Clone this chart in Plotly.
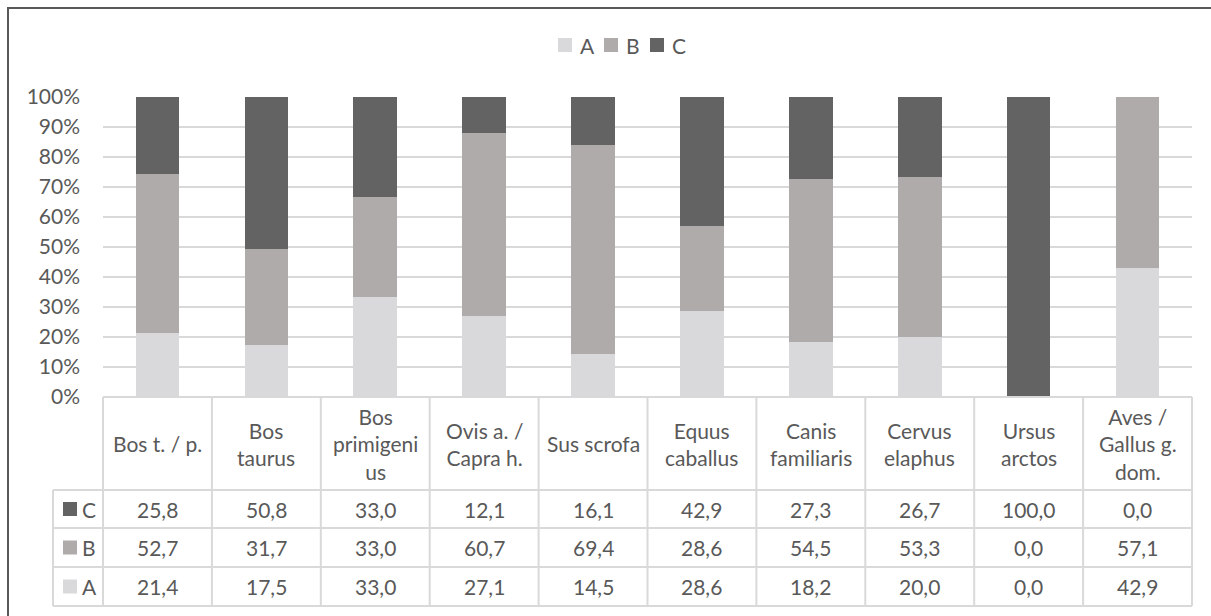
import plotly.graph_objects as go

# Species groups and shares (%) per class
categories = ["Bos t. / p.", "Bos taurus", "Bos primigenius", "Ovis a. / Capra h.", "Sus scrofa",
              "Equus caballus", "Canis familiaris", "Cervus elaphus", "Ursus arctos", "Aves / Gallus g. dom."]
header_labels = ["Bos t. / p.", "Bos<br>taurus", "Bos<br>primigeni<br>us", "Ovis a. /<br>Capra h.", "Sus scrofa",
                 "Equus<br>caballus", "Canis<br>familiaris", "Cervus<br>elaphus", "Ursus<br>arctos", "Aves /<br>Gallus g.<br>dom."]
values_a = [21.4, 17.5, 33.0, 27.1, 14.5, 28.6, 18.2, 20.0, 0.0, 42.9]
values_b = [52.7, 31.7, 33.0, 60.7, 69.4, 28.6, 54.5, 53.3, 0.0, 57.1]
values_c = [25.8, 50.8, 33.0, 12.1, 16.1, 42.9, 27.3, 26.7, 100.0, 0.0]
series_names = ["A", "B", "C"]
y_ticks = [0, 10, 20, 30, 40, 50, 60, 70, 80, 90, 100]

colors = {"A": "#d9d9db", "B": "#afabab", "C": "#636363"}
text_color = "#595959"
grid_color = "#d9d9d9"
FONT = "Lato"
FS = 21

W, H = 1211, 616
L, R, T, B = 103, 19, 97, 219
PW, PH = W - L - R, H - T - B


def px(x):
    return (x - L) / PW


def py(y):
    return (H - B - y) / PH


fig = go.Figure()
series = {"A": values_a, "B": values_b, "C": values_c}
for name in series_names:
    fig.add_trace(go.Bar(
        x=list(range(len(categories))), y=series[name], name=name,
        marker=dict(color=colors[name], line=dict(width=0)),
        showlegend=False,
    ))

shapes = []
annotations = []

# outer chart frame
shapes.append(dict(type="rect", xref="paper", yref="paper",
                   x0=px(8), x1=px(1300), y0=py(8), y1=py(700),
                   line=dict(color="#595959", width=2), fillcolor="rgba(0,0,0,0)", layer="below"))

# legend at the top
legend_x = [558, 604, 650]
for name, lx in zip(series_names, legend_x):
    shapes.append(dict(type="rect", xref="paper", yref="paper",
                       x0=px(lx), x1=px(lx + 14), y0=py(38), y1=py(52),
                       line=dict(width=0), fillcolor=colors[name]))
    annotations.append(dict(xref="paper", yref="paper", x=px(lx + 20), y=py(45),
                            text=name, showarrow=False, xanchor="left", yanchor="middle",
                            font=dict(family=FONT, size=FS, color=text_color)))

# data table below the plot
col_w = PW / len(categories)
x_left_key = 53
row_edges = [397, 490, 528, 567, 606]
line_style = dict(color=grid_color, width=2)
# horizontal lines
shapes.append(dict(type="line", xref="paper", yref="paper", x0=px(L), x1=px(L + PW),
                   y0=py(row_edges[0]), y1=py(row_edges[0]), line=line_style))
for ry in row_edges[1:]:
    shapes.append(dict(type="line", xref="paper", yref="paper", x0=px(x_left_key), x1=px(L + PW),
                       y0=py(ry), y1=py(ry), line=line_style))
# vertical lines
for i in range(len(categories) + 1):
    xv = L + i * col_w
    shapes.append(dict(type="line", xref="paper", yref="paper", x0=px(xv), x1=px(xv),
                       y0=py(row_edges[0]), y1=py(row_edges[-1]), line=line_style))
shapes.append(dict(type="line", xref="paper", yref="paper", x0=px(x_left_key), x1=px(x_left_key),
                   y0=py(row_edges[1]), y1=py(row_edges[-1]), line=line_style))

# header labels
for i, lab in enumerate(header_labels):
    annotations.append(dict(xref="paper", yref="paper", x=px(L + (i + 0.5) * col_w),
                            y=py((row_edges[0] + row_edges[1]) / 2), text=lab, showarrow=False,
                            xanchor="center", yanchor="middle", align="center",
                            font=dict(family=FONT, size=FS, color=text_color)))

# value rows (C, B, A top to bottom)
row_order = ["C", "B", "A"]
for r, name in enumerate(row_order):
    yc = (row_edges[r + 1] + row_edges[r + 2]) / 2
    shapes.append(dict(type="rect", xref="paper", yref="paper",
                       x0=px(63), x1=px(77), y0=py(yc - 7), y1=py(yc + 7),
                       line=dict(width=0), fillcolor=colors[name]))
    annotations.append(dict(xref="paper", yref="paper", x=px(80), y=py(yc), text=name,
                            showarrow=False, xanchor="left", yanchor="middle",
                            font=dict(family=FONT, size=FS, color=text_color)))
    for i, v in enumerate(series[name]):
        annotations.append(dict(xref="paper", yref="paper", x=px(L + (i + 0.5) * col_w), y=py(yc),
                                text=f"{v:.1f}".replace(".", ","), showarrow=False,
                                xanchor="center", yanchor="middle",
                                font=dict(family=FONT, size=FS, color=text_color)))

fig.update_layout(
    width=W, height=H,
    margin=dict(l=L, r=R, t=T, b=B, autoexpand=False),
    barmode="stack", barnorm="percent", bargap=0.6,
    plot_bgcolor="white", paper_bgcolor="white",
    font=dict(family=FONT, size=FS, color=text_color),
    xaxis=dict(range=[-0.5, len(categories) - 0.5], showticklabels=False, showgrid=False,
               zeroline=False, showline=False, fixedrange=True),
    yaxis=dict(range=[0, 100], tickvals=y_ticks, ticktext=[f"{t}%" for t in y_ticks],
               showgrid=True, gridcolor=grid_color, gridwidth=2, zeroline=False,
               showline=False, ticks="", ticklabelstandoff=22,
               tickfont=dict(family=FONT, size=FS, color=text_color), fixedrange=True),
    shapes=shapes, annotations=annotations,
)

fig.write_html("out.html")
